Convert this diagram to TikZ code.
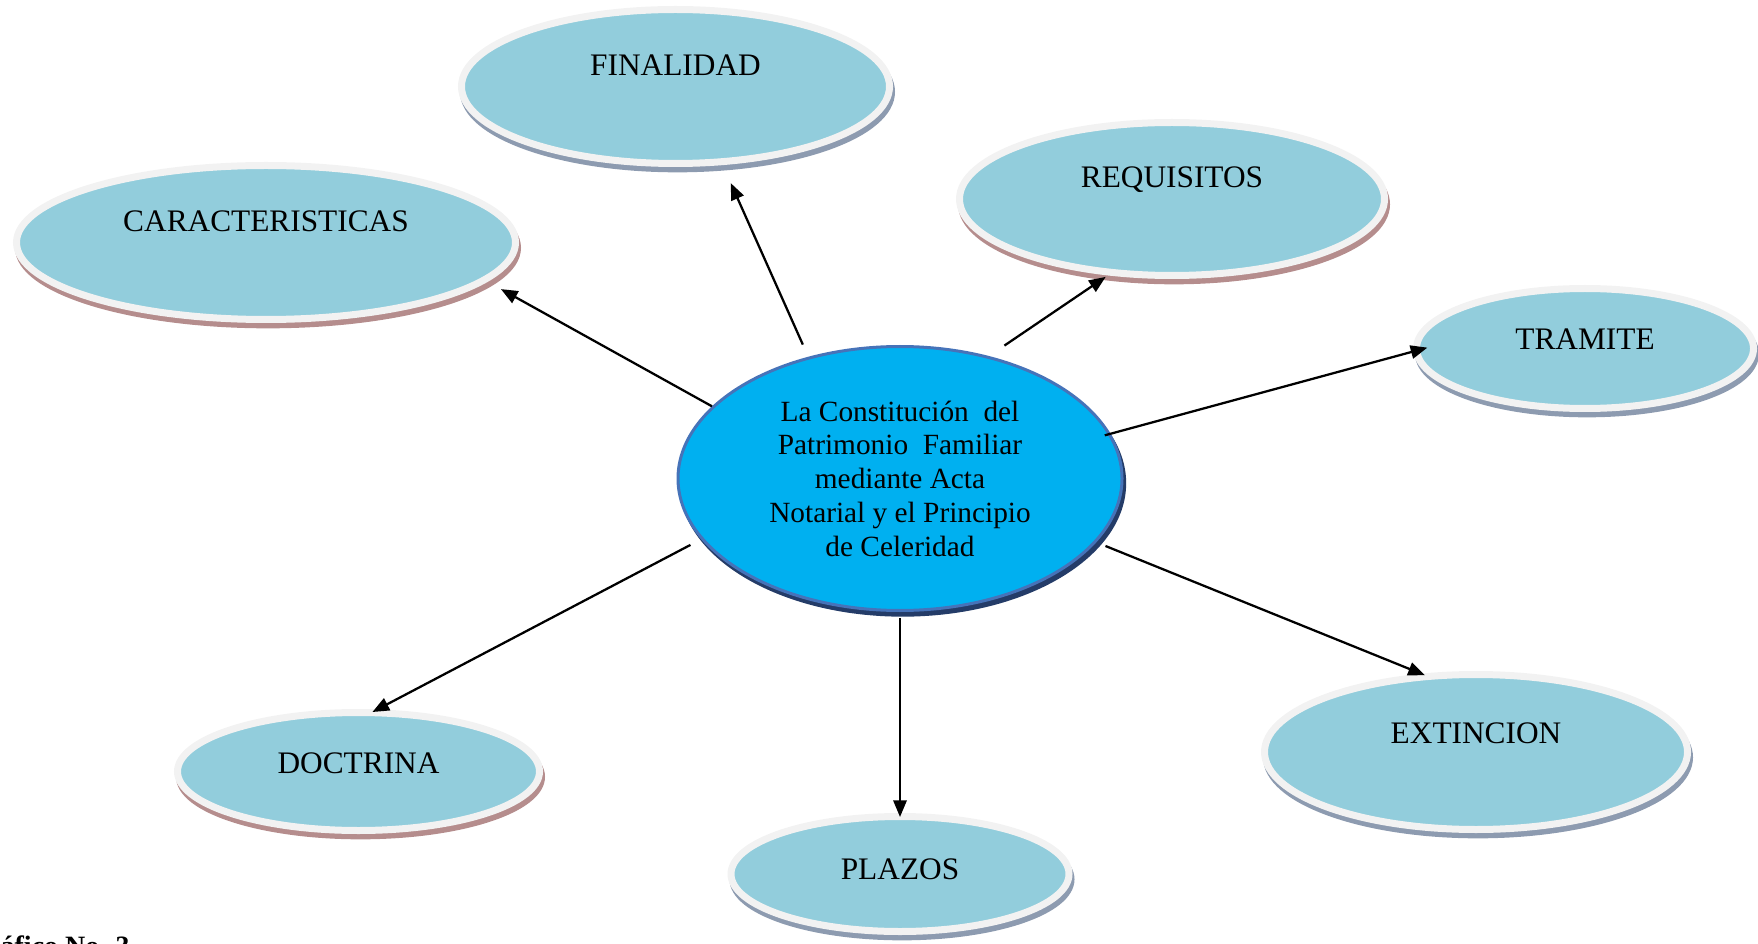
\documentclass[tikz,border=0pt]{standalone}
\usepackage{fontspec}
\setmainfont{Liberation Serif}
\usetikzlibrary{shapes.geometric,arrows.meta}

\definecolor{aquafill}{RGB}{146,205,220}
\definecolor{rimgray}{RGB}{242,242,242}
\definecolor{shadered}{RGB}{181,141,141}
\definecolor{shadeblue}{RGB}{141,155,176}
\definecolor{hubfill}{RGB}{0,176,240}
\definecolor{hubrim}{RGB}{70,115,185}
\definecolor{hubshade}{RGB}{36,60,104}

\tikzset{
  topic/.style={ellipse, fill=aquafill, draw=rimgray, line width=5.25pt, inner sep=0pt,
    font=\fontsize{23.5}{28}\selectfont},
  redshade/.style={preaction={fill=shadered, draw=shadered, line width=5.25pt,
    transform canvas={xshift=1.5pt,yshift=-4pt}}},
  blueshade/.style={preaction={fill=shadeblue, draw=shadeblue, line width=5.25pt,
    transform canvas={xshift=1.5pt,yshift=-4pt}}},
  hub/.style={ellipse, fill=hubfill, draw=hubrim, line width=2.25pt, inner sep=0pt, align=center,
    font=\fontsize{22}{25.3}\selectfont,
    preaction={fill=hubshade, draw=hubshade, line width=2.25pt,
      transform canvas={xshift=2pt,yshift=-3.5pt}}},
  link/.style={line width=1.7pt, -{Triangle[length=12.5pt,width=10pt]}}
}

\begin{document}
\begin{tikzpicture}[x=0.75pt,y=0.75pt,yscale=-1,xscale=1]
        \useasboundingbox (0,0) rectangle (1758,944);
        \node[hub, minimum width=333pt, minimum height=198pt] (hub) at (900,478.5)
            {La Constitución\ \ del\\ Patrimonio\ \ Familiar\\ mediante Acta\\ Notarial y el Principio\\ de Celeridad};
        \node[topic, blueshade, minimum width=321pt, minimum height=115.5pt, text depth=32.25pt] (fin) at (675.5,86.5) {FINALIDAD};
        \node[topic, redshade, minimum width=374.25pt, minimum height=115.5pt, text depth=31.5pt] (cara) at (266,242.5) {CARACTERISTICAS};
        \node[topic, redshade, minimum width=318.75pt, minimum height=114.75pt, text depth=33pt] (req) at (1172,199) {REQUISITOS};
        \node[topic, blueshade, minimum width=252.75pt, minimum height=90pt, text depth=14.25pt] (tram) at (1585,348.5) {TRAMITE};
        \node[topic, blueshade, minimum width=317.25pt, minimum height=116.25pt, text depth=28.5pt] (ext) at (1476,752) {EXTINCION};
        \node[topic, blueshade, minimum width=253.5pt, minimum height=86.25pt, text depth=7.5pt] (plazos) at (900,874) {PLAZOS};
        \node[topic, redshade, minimum width=271.5pt, minimum height=88.5pt, text depth=12pt] (doc) at (358.5,771.5) {DOCTRINA};
        \draw[link, shorten >=11.7pt] (hub.159) -- (cara.350);
        \draw[link, shorten <=10pt, shorten >=14.8pt] (hub.127) -- (fin.301);
        \draw[link, shorten <=14pt, shorten >=2pt] (hub.54) -- (req.230);
        \draw[link, shorten <=-4.5pt, shorten >=-11pt] (hub.12) -- (tram.181);
        \draw[link, shorten <=7.4pt, shorten >=-3pt] (hub.342) -- (ext.125);
        \draw[link, shorten <=4.5pt, shorten >=-3pt] (hub.south) -- (plazos.north);
        \draw[link, shorten <=9pt, shorten >=-4.3pt] (hub.197) -- (doc.73);
        \node[font=\bfseries\fontsize{21}{25}\selectfont, anchor=base east, inner sep=0pt] (caption) at (130,955) {Gráfico No. 3};
    \end{tikzpicture}
\end{document}
